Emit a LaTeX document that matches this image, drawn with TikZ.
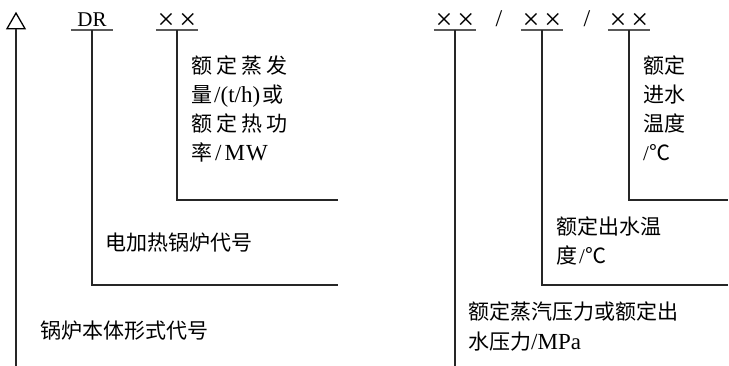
\documentclass[tikz,border=0pt]{standalone}
\usepackage{fontspec}
\setmainfont{Liberation Serif}
\newfontfamily\cjk{Noto Sans CJK SC}
\newcommand{\zh}[1]{{\cjk #1}}
\newcommand{\lat}[1]{{\fontsize{23}{29}\selectfont #1}}
\usetikzlibrary{shapes.geometric}
\tikzset{code/.style={minimum width=42pt, inner sep=0pt, text depth=3.5pt, font=\fontsize{21}{21}\selectfont},
         mult/.style={code, text depth=0.5pt, font=\fontsize{30}{30}\selectfont},
         sep/.style={inner sep=0pt, font=\fontsize{24}{24}\selectfont},
         lead/.style={line width=1.1pt, draw=black!85},
         uline/.style={line width=1.8pt, draw=black!65},
         note/.style={align=left, inner sep=0pt, font=\fontsize{21}{29}\selectfont},
         mark3/.style={draw, regular polygon, regular polygon sides=3, minimum size=21pt, inner sep=0pt, line width=1.3pt},
        }

\begin{document}
\begin{tikzpicture}[x=1pt, y=-1pt]
        \useasboundingbox (0,0) rectangle (729,366);
        \node[mark3, anchor=south](tri)at(16,29.5){};
        \node[code, anchor=south](dr)at(92,30){DR};
        \node[mult, anchor=south](xa)at(177,30){×\hspace{5pt}×};
        \node[mult, anchor=south](p)at(455,30){×\hspace{5pt}×};
        \node[sep, anchor=base](s1)at(499,27){/};
        \node[mult, anchor=south](q)at(542,30){×\hspace{5pt}×};
        \node[sep, anchor=base](s2)at(587,27){/};
        \node[mult, anchor=south](r)at(629,30){×\hspace{5pt}×};

        \coordinate(bot1)at(16,366);
        \coordinate(end1)at(338,285);
        \coordinate(end2)at(338,200);
        \coordinate(bot2)at(455,366);
        \coordinate(end3)at(728,285);
        \coordinate(end4)at(728,200);

        \draw[uline](dr.south west)--(dr.south east);
        \draw[uline](xa.south west)--(xa.south east);
        \draw[uline](p.south west)--(p.south east);
        \draw[uline](q.south west)--(q.south east);
        \draw[uline](r.south west)--(r.south east);

        \draw[lead](tri.south)--(bot1);
        \draw[lead](dr.south)|-(end1);
        \draw[lead](xa.south)|-(end2);
        \draw[lead](p.south)--(bot2);
        \draw[lead](q.south)|-(end3);
        \draw[lead](r.south)|-(end4);

        \node[note, anchor=base west](rating)at(191,161){\zh{额\hspace{4pt}定\hspace{4pt}蒸\hspace{4pt}发}\\
            \zh{量}\hspace{2pt}\lat{/(t/h)}\hspace{2pt}\zh{或}\\
            \zh{额\hspace{4pt}定\hspace{4pt}热\hspace{4pt}功}\\
            \zh{率}\hspace{3pt}\lat{/\hspace{3pt}M\hspace{1pt}W}};
        \node[note, anchor=base west](elec)at(105,251){\zh{电加热锅炉代号}};
        \node[note, anchor=base west](body)at(40,338){\zh{锅炉本体形式代号}};
        \node[note, anchor=base west](inlet)at(643,161){\zh{额定}\\\zh{进水}\\\zh{温度}\\/\zh{℃}};
        \node[note, anchor=base west](outlet)at(556,264){\zh{额定出水温}\\\zh{度}\hspace{2pt}/\zh{℃}};
        \node[note, anchor=base west](press)at(468,349){\zh{额定蒸汽压力或额定出}\\\zh{水压力}\lat{/MPa}};
    \end{tikzpicture}
\end{document}
